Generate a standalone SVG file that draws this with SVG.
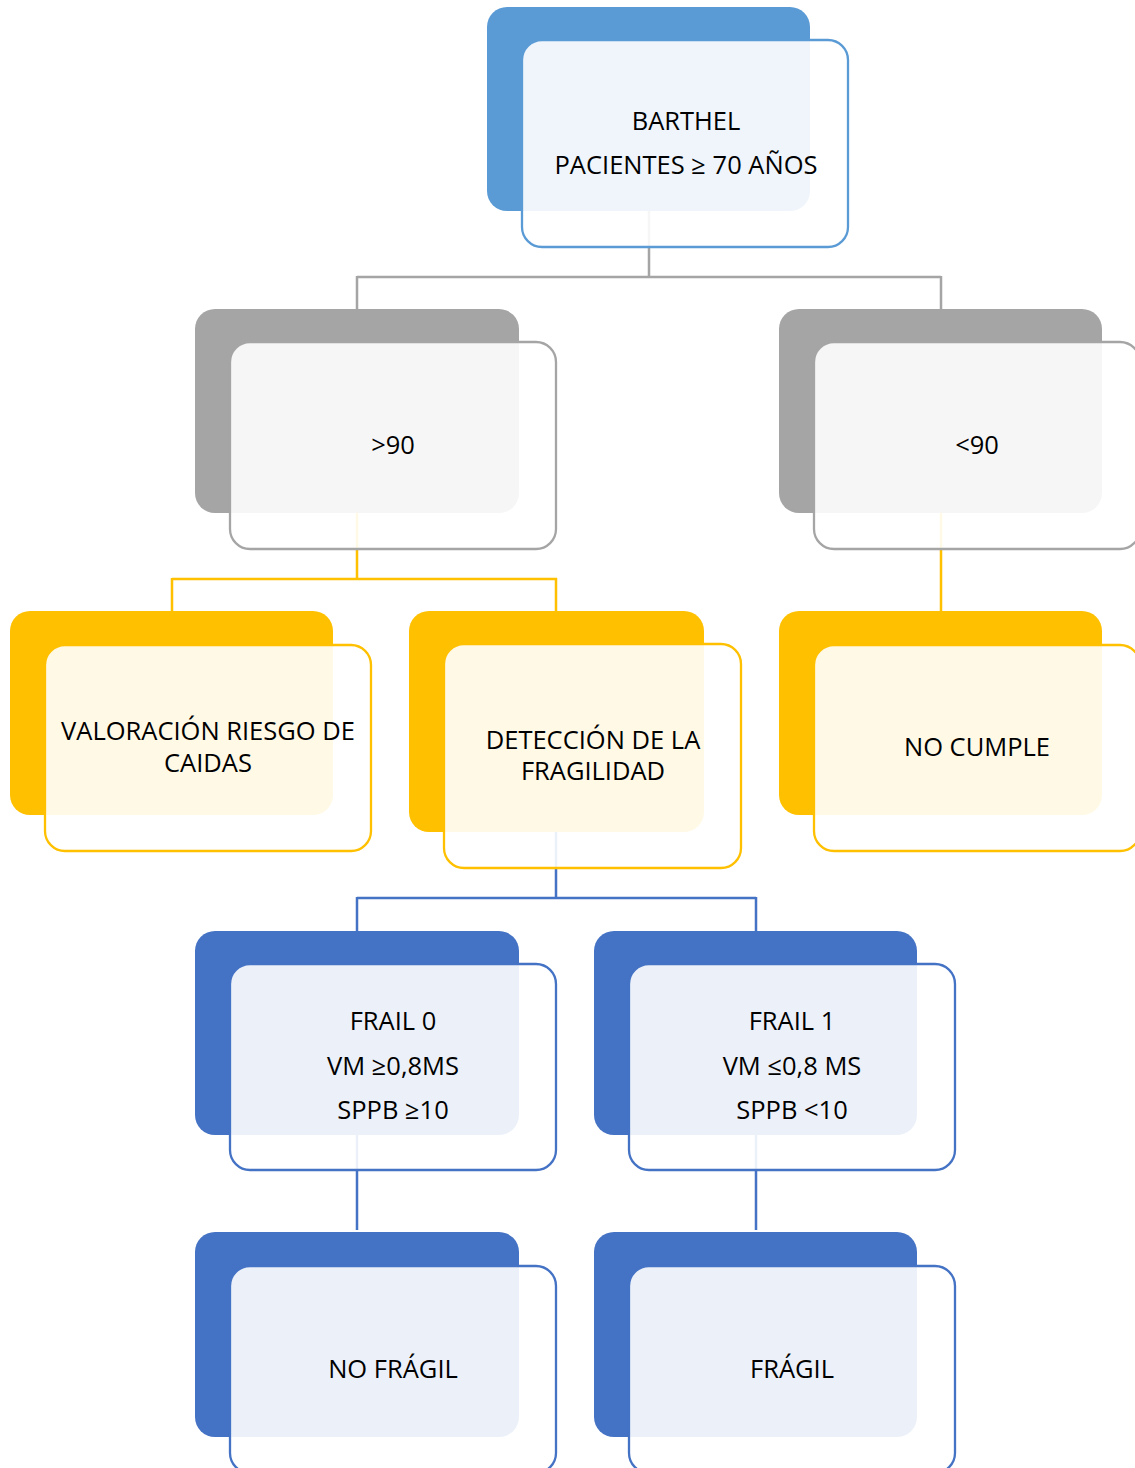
<svg xmlns="http://www.w3.org/2000/svg" width="1135" height="1468" viewBox="0 0 1135 1468">
<style>
.t{font-family:"Open Sans","Liberation Sans",sans-serif;font-size:25.5px;fill:#000;text-anchor:middle}
.front{fill:#fff;fill-opacity:0.9;stroke-width:2.3}
.c{fill:none;stroke-width:2.5}
</style>
<rect width="1135" height="1468" fill="#fff"/>
<g id="connectors">
<path class="c" stroke="#A5A5A5" d="M649 211 V277 M357 277 H941 M357 276 V309 M941 276 V309"/>
<path class="c" stroke="#FFC000" d="M357 513 V579 M172 579 H557 M172 578 V611 M556 578 V611 M941 513 V611"/>
<path class="c" stroke="#4472C4" d="M556 832 V898 M357 898 H756 M357 897 V931 M756 897 V931 M357 1135 V1230 M756 1135 V1230"/>
</g>
<g id="n-barthel">
<rect x="487" y="7" width="323" height="204" rx="20" fill="#5B9BD5"/>
<rect class="front" x="522" y="40" width="326" height="207" rx="20" stroke="#5B9BD5"/>
<text class="t" x="686" y="130">BARTHEL</text>
<text class="t" x="686" y="174">PACIENTES ≥ 70 AÑOS</text>
</g>
<g id="n-gt90">
<rect x="195" y="309" width="324" height="204" rx="20" fill="#A5A5A5"/>
<rect class="front" x="230" y="342" width="326" height="207" rx="20" stroke="#A5A5A5"/>
<text class="t" x="393" y="454">&gt;90</text>
</g>
<g id="n-lt90">
<rect x="779" y="309" width="323" height="204" rx="20" fill="#A5A5A5"/>
<rect class="front" x="814" y="342" width="326" height="207" rx="20" stroke="#A5A5A5"/>
<text class="t" x="977" y="454">&lt;90</text>
</g>
<g id="n-caidas">
<rect x="10" y="611" width="323" height="204" rx="20" fill="#FFC000"/>
<rect class="front" x="45" y="645" width="326" height="206" rx="20" stroke="#FFC000"/>
<text class="t" x="208" y="740">VALORACIÓN RIESGO DE</text>
<text class="t" x="208" y="772">CAIDAS</text>
</g>
<g id="n-fragilidad">
<rect x="409" y="611" width="295" height="221" rx="20" fill="#FFC000"/>
<rect class="front" x="444" y="644" width="297" height="224" rx="20" stroke="#FFC000"/>
<text class="t" x="593" y="749">DETECCIÓN DE LA</text>
<text class="t" x="593" y="780">FRAGILIDAD</text>
</g>
<g id="n-nocumple">
<rect x="779" y="611" width="323" height="204" rx="20" fill="#FFC000"/>
<rect class="front" x="814" y="645" width="326" height="206" rx="20" stroke="#FFC000"/>
<text class="t" x="977" y="756">NO CUMPLE</text>
</g>
<g id="n-frail0">
<rect x="195" y="931" width="324" height="204" rx="20" fill="#4472C4"/>
<rect class="front" x="230" y="964" width="326" height="206" rx="20" stroke="#4472C4"/>
<text class="t" x="393" y="1030">FRAIL 0</text>
<text class="t" x="393" y="1075">VM ≥0,8MS</text>
<text class="t" x="393" y="1119">SPPB ≥10</text>
</g>
<g id="n-frail1">
<rect x="594" y="931" width="323" height="204" rx="20" fill="#4472C4"/>
<rect class="front" x="629" y="964" width="326" height="206" rx="20" stroke="#4472C4"/>
<text class="t" x="792" y="1030">FRAIL 1</text>
<text class="t" x="792" y="1075">VM ≤0,8 MS</text>
<text class="t" x="792" y="1119">SPPB &lt;10</text>
</g>
<g id="n-nofragil">
<rect x="195" y="1232" width="324" height="205" rx="20" fill="#4472C4"/>
<rect class="front" x="230" y="1266" width="326" height="207" rx="20" stroke="#4472C4"/>
<text class="t" x="393" y="1378">NO FRÁGIL</text>
</g>
<g id="n-fragil">
<rect x="594" y="1232" width="323" height="205" rx="20" fill="#4472C4"/>
<rect class="front" x="629" y="1266" width="326" height="207" rx="20" stroke="#4472C4"/>
<text class="t" x="792" y="1378">FRÁGIL</text>
</g>
</svg>
